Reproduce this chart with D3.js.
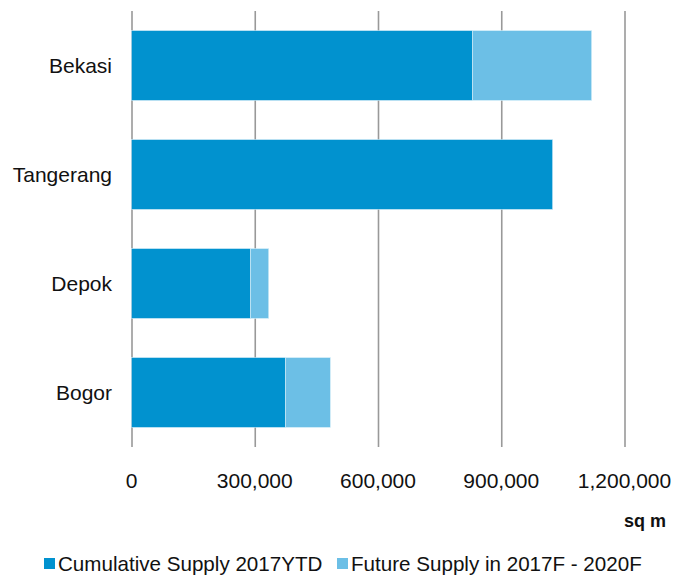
<!DOCTYPE html>
<html>
<head>
<meta charset="utf-8">
<script src="https://cdn.jsdelivr.net/npm/d3@7"></script>
<style>
  body { margin: 0; background: #fff; }
  text { font-family: "Liberation Sans", Arial, sans-serif; fill: #111; }
</style>
</head>
<body>
<div id="chart"></div>
<script>
const WIDTH = 687;
const HEIGHT = 579;

const PLOT_LEFT = 131.5;
const PLOT_RIGHT = 624.5;
const PLOT_TOP = 11;
const PLOT_BOTTOM = 447;

const categories = ["Bekasi", "Tangerang", "Depok", "Bogor"];
const cumulative = [830000, 1025000, 290000, 375000];
const future = [290000, 0, 44000, 109000];
const tickValues = [0, 300000, 600000, 900000, 1200000];
const seriesNames = ["Cumulative Supply 2017YTD", "Future Supply in 2017F - 2020F"];
const seriesColors = ["#0192cf", "#6cbfe6"];

const svg = d3.select("#chart")
  .append("svg")
  .attr("width", WIDTH)
  .attr("height", HEIGHT);

const xScale = d3.scaleLinear()
  .domain([0, 1200000])
  .range([PLOT_LEFT, PLOT_RIGHT]);

const yScale = d3.scaleBand()
  .domain(categories)
  .range([PLOT_TOP, PLOT_BOTTOM])
  .paddingInner(0.36)
  .paddingOuter(0.18);

// vertical grid lines (one per tick, the 0 line doubles as the axis)
const grid = d3.axisBottom(xScale)
  .tickValues(tickValues)
  .tickSize(-(PLOT_BOTTOM - PLOT_TOP))
  .tickFormat("");

svg.append("g")
  .attr("transform", "translate(0," + PLOT_BOTTOM + ")")
  .call(grid)
  .call(g => g.select(".domain").remove())
  .call(g => g.selectAll("line").attr("stroke", "#999").attr("stroke-width", 1.6));

// stacked bars
const rows = categories.map((c, i) => ({ name: c, a: cumulative[i], b: future[i] }));

svg.selectAll(".bar-a")
  .data(rows)
  .enter()
  .append("rect")
  .attr("x", xScale(0))
  .attr("y", d => yScale(d.name))
  .attr("width", d => xScale(d.a) - xScale(0))
  .attr("height", yScale.bandwidth())
  .attr("fill", seriesColors[0])
  .attr("stroke", "#cbe8f6")
  .attr("stroke-width", 0.6);

svg.selectAll(".bar-b")
  .data(rows.filter(d => d.b > 0))
  .enter()
  .append("rect")
  .attr("x", d => xScale(d.a))
  .attr("y", d => yScale(d.name))
  .attr("width", d => xScale(d.a + d.b) - xScale(d.a))
  .attr("height", yScale.bandwidth())
  .attr("fill", seriesColors[1])
  .attr("stroke", "#d6eef9")
  .attr("stroke-width", 0.6);

// category labels
svg.selectAll(".cat")
  .data(categories)
  .enter()
  .append("text")
  .attr("x", 112)
  .attr("y", d => yScale(d) + yScale.bandwidth() / 2)
  .attr("dy", "0.35em")
  .attr("text-anchor", "end")
  .style("font-size", "21px")
  .text(d => d);

// x tick labels
const fmt = d3.format(",");
svg.selectAll(".tick-label")
  .data(tickValues)
  .enter()
  .append("text")
  .attr("x", d => xScale(d))
  .attr("y", 488)
  .attr("text-anchor", "middle")
  .style("font-size", "21px")
  .text(d => fmt(d));

// unit label
svg.append("text")
  .attr("x", 666)
  .attr("y", 527)
  .attr("text-anchor", "end")
  .style("font-size", "18px")
  .style("font-weight", "bold")
  .text("sq m");

// legend
const legendX = [44, 337];
const legend = svg.selectAll(".legend")
  .data(seriesNames)
  .enter()
  .append("g")
  .attr("transform", (d, i) => "translate(" + legendX[i] + ",558)");

legend.append("rect")
  .attr("width", 11)
  .attr("height", 11)
  .attr("fill", (d, i) => seriesColors[i]);

legend.append("text")
  .attr("x", 14)
  .attr("y", 6)
  .attr("dy", "0.35em")
  .style("font-size", "20.6px")
  .text(d => d);
</script>
</body>
</html>
